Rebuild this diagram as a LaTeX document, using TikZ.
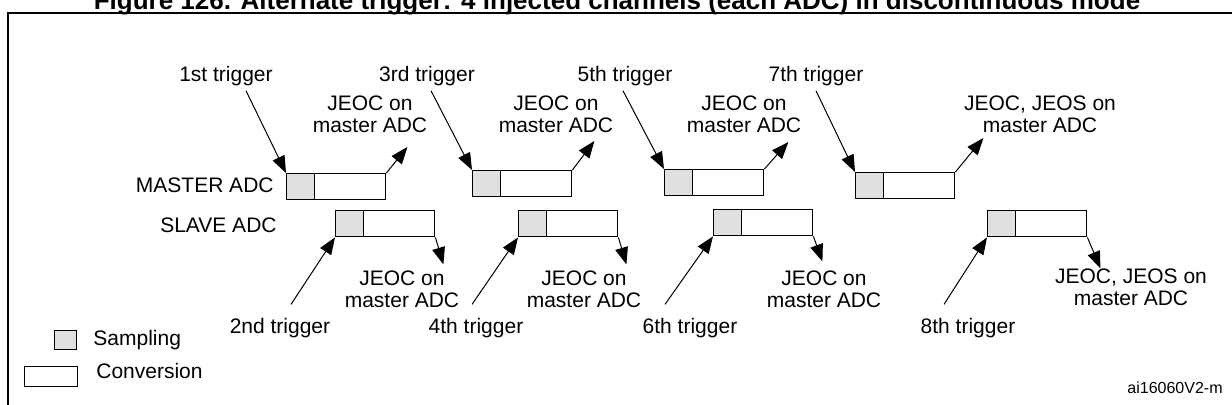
\documentclass[tikz,border=0pt]{standalone}
\usepackage{fontspec}
\setmainfont{Liberation Sans}
\usetikzlibrary{arrows.meta}
\tikzstyle{lbl}=[inner sep=1pt, align=center, font=\fontsize{10.5}{11}\selectfont]
\tikzstyle{conv}=[draw, line width=0.7pt, fill=white, anchor=north west, inner sep=0pt, minimum width=49.5pt, minimum height=13pt]
\tikzstyle{smp}=[conv, fill=black!12, minimum width=14pt]
\tikzset{tri/.style={line width=0.5pt, -{Triangle[length=8.5pt,width=6.5pt]}}}

\begin{document}
\begin{tikzpicture}[x=0.5pt, y=-0.5pt]
    \useasboundingbox (0,0) rectangle (1232,405);
    \draw[line width=1.2pt] (8,13) rectangle (1260,430);
    \node[anchor=base, inner sep=0pt, font=\bfseries\fontsize{13}{15}\selectfont] (title) at (617,9.5)
      {Figure 126. Alternate trigger: 4 injected channels (each ADC) in discontinuous mode};
    \node[lbl, anchor=base east] (mst) at (276,193) {MASTER ADC};
    \node[lbl, anchor=base east] (slv) at (279,233) {SLAVE ADC};
    % master conversions
    \node[conv] (m1) at (286,173) {}; \node[smp] (m1s) at (m1.north west) {};
    \node[conv] (m2) at (472,170) {}; \node[smp] (m2s) at (m2.north west) {};
    \node[conv] (m3) at (664,169) {}; \node[smp] (m3s) at (m3.north west) {};
    \node[conv] (m4) at (855,172) {}; \node[smp] (m4s) at (m4.north west) {};
    % slave conversions
    \node[conv] (s1) at (335,210) {}; \node[smp] (s1s) at (s1.north west) {};
    \node[conv] (s2) at (518,210) {}; \node[smp] (s2s) at (s2.north west) {};
    \node[conv] (s3) at (713,209) {}; \node[smp] (s3s) at (s3.north west) {};
    \node[conv] (s4) at (987,210) {}; \node[smp] (s4s) at (s4.north west) {};
    % odd triggers
    \node[lbl, anchor=base] (t1) at (226,82) {1st trigger};
    \node[lbl, anchor=base] (t3) at (427,82) {3rd trigger};
    \node[lbl, anchor=base] (t5) at (625,82) {5th trigger};
    \node[lbl, anchor=base] (t7) at (816,82) {7th trigger};
    \draw[tri] ([xshift=10pt,yshift=-1pt]t1.south) -- (m1.north west);
    \draw[tri] ([xshift=2pt,yshift=-1pt]t3.south) -- (m2.north west);
    \draw[tri] ([xshift=-1pt,yshift=-1pt]t5.south) -- (m3.north west);
    \draw[tri] ([yshift=-1pt]t7.south) -- (m4.north west);
    % even triggers
    \node[lbl, anchor=base] (t2) at (280,334) {2nd trigger};
    \node[lbl, anchor=base] (t4) at (476,334) {4th trigger};
    \node[lbl, anchor=base] (t6) at (690,334) {6th trigger};
    \node[lbl, anchor=base] (t8) at (968,334) {8th trigger};
    \draw[tri] ([xshift=5.5pt,yshift=6pt]t2.north) -- (s1.south west);
    \draw[tri] ([xshift=-2pt,yshift=6pt]t4.north) -- (s2.south west);
    \draw[tri] ([xshift=-12.5pt,yshift=6pt]t6.north) -- (s3.south west);
    \draw[tri] ([xshift=-12pt,yshift=6pt]t8.north) -- (s4.south west);
    % end of conversion
    \node[lbl, anchor=base] (j1) at (370,133) {JEOC on\\master ADC};
    \node[lbl, anchor=base] (j2) at (556,133) {JEOC on\\master ADC};
    \node[lbl, anchor=base] (j3) at (744,133) {JEOC on\\master ADC};
    \node[lbl, anchor=base] (j4) at (1040,133) {JEOC, JEOS on\\master ADC};
    \draw[tri] (m1.north east) -- ++(21,-26) coordinate (e1);
    \draw[tri] (m2.north east) -- ++(22,-29) coordinate (e2);
    \draw[tri] (m3.north east) -- ++(24,-27) coordinate (e3);
    \draw[tri] (m4.north east) -- ++(28,-34) coordinate (e4);
    \node[lbl, anchor=base] (k1) at (402,308) {JEOC on\\master ADC};
    \node[lbl, anchor=base] (k2) at (584,308) {JEOC on\\master ADC};
    \node[lbl, anchor=base] (k3) at (824,308) {JEOC on\\master ADC};
    \node[lbl, anchor=base] (k4) at (1131,306) {JEOC, JEOS on\\master ADC};
    \draw[tri] (s1.south east) -- ++(8,27) coordinate (f1);
    \draw[tri] (s2.south east) -- ++(8,27) coordinate (f2);
    \draw[tri] (s3.south east) -- ++(9,25) coordinate (f3);
    \draw[tri] (s4.south east) -- ++(13,31) coordinate (f4);
    % legend
    \node[smp, minimum width=11pt, minimum height=9.5pt] (lsmp) at (54,330) {};
    \node[lbl, anchor=base west] (lsmpt) at (91,346) {Sampling};
    \node[conv, minimum width=26.5pt, minimum height=10pt] (lconv) at (24,366) {};
    \node[lbl, anchor=base west] (lconvt) at (94,379) {Conversion};
    \node[anchor=base east, inner sep=0pt, font=\fontsize{8}{9}\selectfont] (id) at (1223,394) {ai16060V2-m};
\end{tikzpicture}
\end{document}
